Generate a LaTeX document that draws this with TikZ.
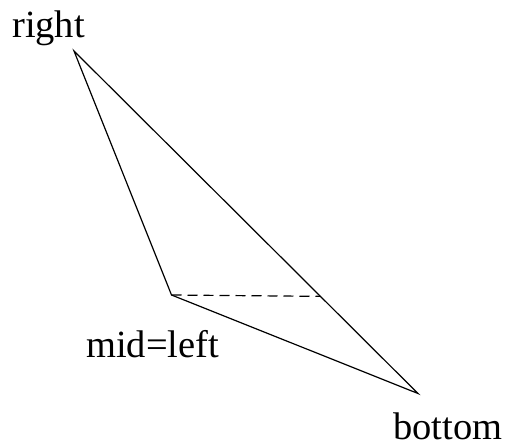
\documentclass[tikz,border=0pt]{standalone}
\usepackage{fontspec}
\setmainfont{Liberation Serif}
\usetikzlibrary{calc}
\begin{document}
\begin{tikzpicture}[x=1pt,y=-1pt,
  lbl/.style={inner sep=0pt,anchor=base west,font=\fontsize{38.5}{40}\selectfont},
  edge/.style={line width=1.2pt,line join=miter},
  dashedge/.style={line width=1.2pt,dash pattern=on 10pt off 6pt}]
\useasboundingbox (0,0) rectangle (506,444);
\coordinate (R) at (74,51);
\coordinate (M) at (171.5,295);
\coordinate (B) at (418,393.5);
\coordinate (D) at ($(R)!0.7164!(B)$);
\draw[edge] (R) -- (M) -- (B) -- cycle;
\draw[dashedge] (M) -- (D);
\node[lbl] (tr) at (12,38) {right};
\node[lbl] (tm) at (86,357) {mid=left};
\node[lbl] (tb) at (393,439.5) {bottom};
\end{tikzpicture}
\end{document}
